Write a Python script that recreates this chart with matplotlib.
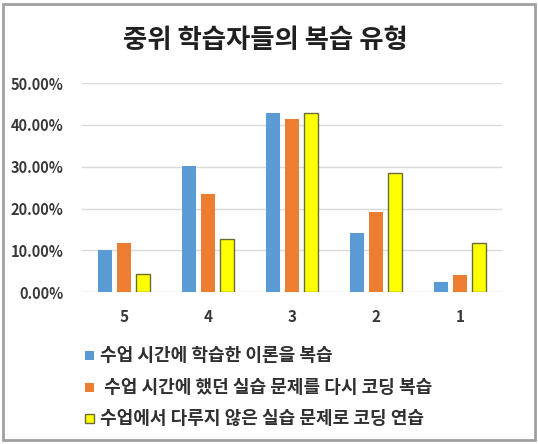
import matplotlib
matplotlib.use("Agg")
import matplotlib.pyplot as plt
from matplotlib.patches import Rectangle
import numpy as np

plt.rcParams['font.family'] = ['Noto Sans CJK KR', 'DejaVu Sans']

title = "중위 학습자들의 복습 유형"
categories = ["5", "4", "3", "2", "1"]
series_names = ["수업 시간에 학습한 이론을 복습",
                " 수업 시간에 했던 실습 문제를 다시 코딩 복습",
                "수업에서 다루지 않은 실습 문제로 코딩 연습"]
theory = [10.1, 30.2, 42.9, 14.1, 2.4]
redo = [11.8, 23.5, 41.3, 19.1, 4.0]
new_practice = [4.4, 12.6, 42.8, 28.5, 11.7]
yticks = [0, 10, 20, 30, 40, 50]

colors = ["#5B9BD5", "#ED7D31", "#FFFF00"]
edges = ["#5B9BD5", "#ED7D31", "#6B6B3A"]

fig = plt.figure(figsize=(5.38, 4.44), dpi=100)
ax = fig.add_axes([0.152, 0.342, 0.781, 0.471])

x = np.arange(len(categories))
w = 0.167
step = 0.226
for i, vals in enumerate([theory, redo, new_practice]):
    ax.bar(x + (i - 1) * step, vals, width=w, color=colors[i],
           edgecolor=edges[i], linewidth=1.0 if i == 2 else 0, zorder=3)

ax.set_xlim(-0.5, len(categories) - 0.5)
ax.set_ylim(0, 50)
ax.set_yticks(yticks)
ax.set_yticklabels([f"{v:.2f}%" for v in yticks], fontsize=10.5, fontweight='bold',
                   color='#383838')
ax.set_xticks(x)
ax.set_xticklabels(categories, fontsize=11, fontweight='bold', color='#383838')
ax.tick_params(length=0)
ax.tick_params(axis='y', pad=13)
ax.tick_params(axis='x', pad=12)
ax.grid(axis='y', color='#D9D9D9', linewidth=1, zorder=0)
for s in ax.spines.values():
    s.set_visible(False)

fig.text(0.494, 0.908, title, ha='center', va='center', fontsize=19,
         fontweight='bold', color='#202020')

# legend
ys = [355, 387, 418]
for i, (name, yy) in enumerate(zip(series_names, ys)):
    yf = 1 - yy / 444
    fig.patches.append(Rectangle((85 / 538, yf - 4.5 / 444), 9 / 538, 9 / 444,
                                 transform=fig.transFigure, facecolor=colors[i],
                                 edgecolor=edges[i], linewidth=1.0 if i == 2 else 0))
    fig.text(100 / 538, yf, name, ha='left', va='center', fontsize=13,
             fontweight='bold', color='#303030')

# outer frame
fig.patches.append(Rectangle((3 / 538, 4 / 444), 532 / 538, 436 / 444,
                             transform=fig.transFigure, fill=False,
                             edgecolor='#A0A0A0', linewidth=2))

fig.savefig("out.png", dpi=100)
